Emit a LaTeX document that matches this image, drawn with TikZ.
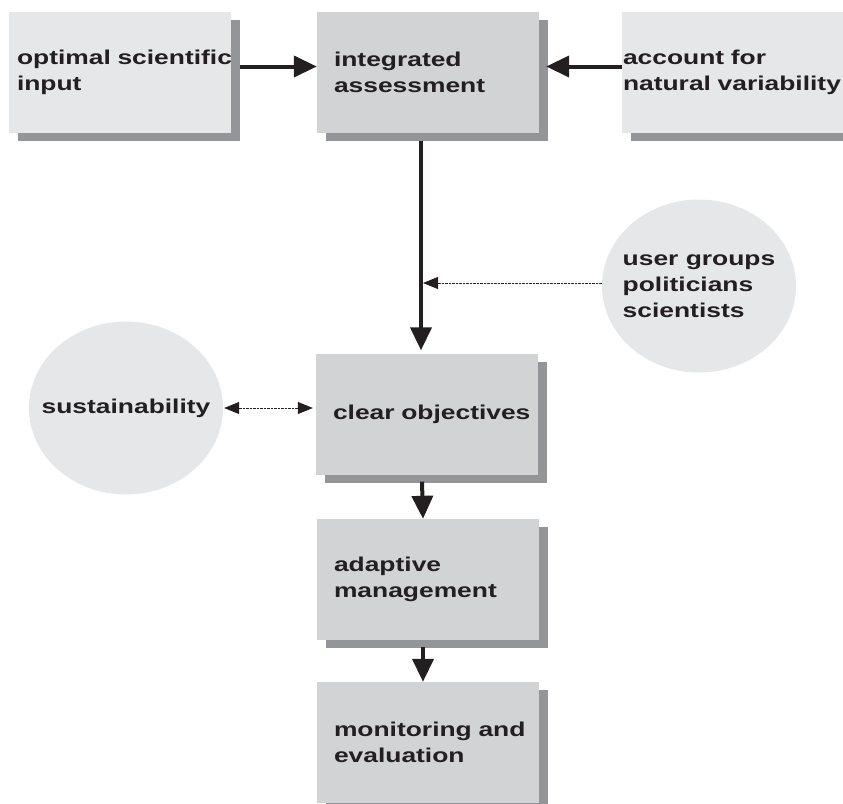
\documentclass[tikz,border=0pt]{standalone}
\usepackage{fontspec}
\setmainfont{Liberation Sans}[FakeStretch=1.32]
\usetikzlibrary{shapes.geometric,shadows,arrows.meta}
\definecolor{palegrey}{HTML}{E6E7E8}
\definecolor{midgrey}{HTML}{D1D3D4}
\definecolor{shadegrey}{HTML}{939598}
\definecolor{ink}{HTML}{231F20}
\newcommand{\lbl}{\bfseries\fontsize{20}{26}\selectfont\hyphenpenalty=10000\exhyphenpenalty=10000}

\begin{document}
\begin{tikzpicture}[x=1pt,y=-1pt,
    box/.style={rectangle,fill=midgrey,minimum width=222pt,minimum height=121pt,
      inner xsep=17pt,text width=188pt,align=left,font=\lbl,text=ink,
      general shadow={fill=shadegrey,shadow xshift=9pt,shadow yshift=-8pt}},
    blob/.style={ellipse,fill=palegrey,minimum width=194pt,minimum height=173pt,
      inner sep=-24pt,font=\lbl,text=ink,align=left},
    main/.style={-{Triangle[length=23pt,width=21pt]},line width=4pt,draw=ink},
    hint/.style={line width=0.8pt,draw=ink,dash pattern=on 2.5pt off 1pt,
      >={Triangle[length=15pt,width=12pt]}}]
    \useasboundingbox (0,0) rectangle (843,803);
    \node[box,fill=palegrey,inner xsep=8pt,text width=206pt] (optin) at (120,72.5) {optimal~scientific\\input};
    \node[box] (integ) at (428,72.5) {integrated\\assessment};
    \node[box,fill=palegrey,inner xsep=1pt,text width=220pt] (natvar) at (733,72.5) {account for\\natural~variability};
    \node[blob] (users) at (699,286) {user groups\\politicians\\scientists};
    \node[blob] (sust) at (126,408) {sustainability};
    \node[box] (clear) at (427,414) {clear~objectives};
    \node[box] (adapt) at (428,579.5) {adaptive\\management};
    \node[box] (monit) at (428,742.5) {monitoring~and\\evaluation};
    \draw[main] ([xshift=9pt,yshift=6pt]optin.east) -- ([yshift=6pt]integ.west);
    \draw[main] ([yshift=6pt]natvar.west) -- ([xshift=7pt,yshift=6pt]integ.east);
    \draw[main] ([xshift=-7pt,yshift=-8pt]integ.south) coordinate (stem) -- ([xshift=-6pt,yshift=3pt]clear.north);
    \coordinate (tap) at ([yshift=3pt]users.west);
    \draw[hint,->,shorten >=2pt] (tap) -- (tap -| stem);
    \draw[hint,<->,shorten <=1pt,shorten >=3pt] (sust.east) -- (sust.east -| clear.west);
    \draw[main] ([xshift=-5pt,yshift=-7pt]clear.south) -- ([xshift=-5pt]adapt.north);
    \draw[main] ([xshift=-5pt,yshift=-7pt]adapt.south) -- ([xshift=-5pt]monit.north);
  \end{tikzpicture}
\end{document}
